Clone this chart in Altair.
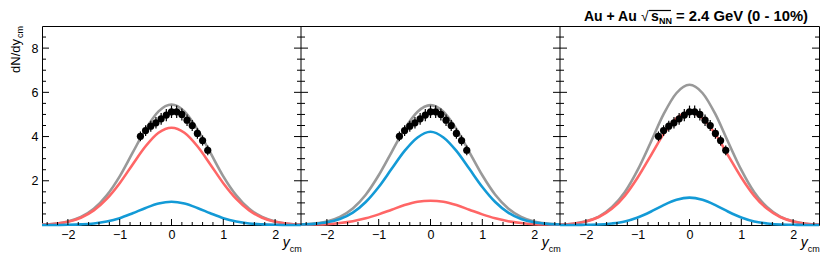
import altair as alt
import pandas as pd

# ---------------- data ----------------
curve_x = [-2.5, -2.25, -2.0, -1.75, -1.5, -1.25, -1.0, -0.75, -0.5, -0.25, 0.0,
           0.25, 0.5, 0.75, 1.0, 1.25, 1.5, 1.75, 2.0, 2.25, 2.5]

p1_gray = [0.02, 0.06, 0.16, 0.36, 0.73, 1.34, 2.20, 3.27, 4.33, 5.14, 5.45,
           5.14, 4.33, 3.27, 2.20, 1.34, 0.73, 0.36, 0.16, 0.06, 0.02]
p1_red = [0.02, 0.06, 0.15, 0.33, 0.66, 1.18, 1.89, 2.74, 3.56, 4.17, 4.40,
          4.17, 3.56, 2.74, 1.89, 1.18, 0.66, 0.33, 0.15, 0.06, 0.02]
p1_blue = [0.00, 0.00, 0.01, 0.03, 0.07, 0.16, 0.31, 0.53, 0.77, 0.97, 1.05,
           0.97, 0.77, 0.53, 0.31, 0.16, 0.07, 0.03, 0.01, 0.00, 0.00]

p2_gray = [0.03, 0.07, 0.16, 0.37, 0.75, 1.37, 2.25, 3.30, 4.34, 5.12, 5.42,
           5.12, 4.34, 3.30, 2.25, 1.37, 0.75, 0.37, 0.16, 0.07, 0.03]
p2_red = [0.01, 0.02, 0.04, 0.09, 0.17, 0.30, 0.48, 0.69, 0.90, 1.05, 1.10,
          1.05, 0.90, 0.69, 0.48, 0.30, 0.17, 0.09, 0.04, 0.02, 0.01]
p2_blue = [0.02, 0.05, 0.12, 0.27, 0.56, 1.04, 1.72, 2.54, 3.35, 3.96, 4.22,
           3.96, 3.35, 2.54, 1.72, 1.04, 0.56, 0.27, 0.12, 0.05, 0.02]

p3_gray = [0.02, 0.06, 0.17, 0.38, 0.80, 1.48, 2.49, 3.73, 5.01, 5.97, 6.34,
           5.97, 5.01, 3.73, 2.49, 1.48, 0.80, 0.38, 0.17, 0.06, 0.02]
p3_red = [0.02, 0.06, 0.16, 0.36, 0.73, 1.32, 2.15, 3.13, 4.11, 4.83, 5.10,
          4.83, 4.11, 3.13, 2.15, 1.32, 0.73, 0.36, 0.16, 0.06, 0.02]
p3_blue = [0.00, 0.00, 0.01, 0.02, 0.07, 0.16, 0.34, 0.60, 0.90, 1.14, 1.24,
           1.14, 0.90, 0.60, 0.34, 0.16, 0.07, 0.02, 0.01, 0.00, 0.00]

data_x = [-0.6, -0.5, -0.4, -0.3, -0.2, -0.1, 0.0, 0.1, 0.2, 0.3, 0.4, 0.5, 0.6, 0.7]
data_y = [4.01, 4.27, 4.47, 4.62, 4.80, 4.97, 5.12, 5.12, 5.00, 4.74, 4.50, 4.14, 3.82, 3.38]
data_err = [0.22, 0.24, 0.25, 0.26, 0.27, 0.28, 0.28, 0.28, 0.27, 0.26, 0.25, 0.24, 0.23, 0.22]

x_tick_labels = [-2, -1, 0, 1, 2]
y_tick_labels = [2, 4, 6, 8]
y_minor = [0.5, 1, 1.5, 2.5, 3, 3.5, 4.5, 5, 5.5, 6.5, 7, 7.5, 8.5]
x_minor = [-2.4, -2.2, -1.8, -1.6, -1.4, -1.2, -0.8, -0.6, -0.4, -0.2,
           0.2, 0.4, 0.6, 0.8, 1.2, 1.4, 1.6, 1.8, 2.2, 2.4]

title_parts = ["Au + Au", "\u221a", "s", "NN", "= 2.4 GeV (0 - 10%)"]
ytitle_parts = ["dN/dy", "cm"]
xtitle_parts = ["y", "cm"]

series_colors = {"gray": "#999999", "red": "#ff6666", "blue": "#139ad6"}

# ---------------- tables ----------------
panels = [
    {"gray": p1_gray, "red": p1_red, "blue": p1_blue},
    {"gray": p2_gray, "red": p2_red, "blue": p2_blue},
    {"gray": p3_gray, "red": p3_red, "blue": p3_blue},
]
rows = []
for p, d in enumerate(panels):
    for s, vals in d.items():
        for xv, yv in zip(curve_x, vals):
            rows.append({"panel": p, "series": s, "x": xv, "y": yv})
curves = pd.DataFrame(rows)

pts = pd.DataFrame([
    {"panel": p, "x": xv, "y": yv, "err": e}
    for p in range(3) for xv, yv, e in zip(data_x, data_y, data_err)
])

W, H = 777, 199
FONT = "Liberation Sans"

xaxis = alt.Axis(values=[p * 5 + 2.5 + v for p in range(3) for v in x_tick_labels],
                 labelExpr="format(datum.value % 5 - 2.5, '.0f')",
                 ticks=False, tickSize=0, domain=False, grid=False, title=None,
                 labelFont=FONT, labelFontSize=12.5, labelColor="black",
                 labelPadding=3, labelFlush=False, labelOverlap=False)
yaxis = alt.Axis(values=y_tick_labels, format="d", ticks=False, tickSize=0,
                 domain=False, grid=False, title=None, labelFont=FONT,
                 labelFontSize=12.5, labelColor="black", labelPadding=4)
X = alt.X("gx:Q", scale=alt.Scale(domain=[0, 15], nice=False, zero=False), axis=xaxis)
Y = alt.Y("y:Q", scale=alt.Scale(domain=[0, 9], nice=False, zero=False), axis=yaxis)

gx_expr = "datum.panel * 5 + datum.x + 2.5"

layers = []
for s in ["gray", "red", "blue"]:
    layers.append(
        alt.Chart(curves[curves.series == s])
        .transform_calculate(gx=gx_expr)
        .mark_line(color=series_colors[s], strokeWidth=2.6, interpolate="monotone")
        .encode(x=X, y=Y, detail="panel:N")
    )

errbars = (alt.Chart(pts)
           .transform_calculate(gx=gx_expr, lo="datum.y - datum.err", hi="datum.y + datum.err")
           .mark_rule(color="black", strokeWidth=1.2)
           .encode(x=X, y=alt.Y("lo:Q", scale=alt.Scale(domain=[0, 9], nice=False, zero=False), axis=yaxis),
                   y2="hi:Q"))
points = (alt.Chart(pts)
          .transform_calculate(gx=gx_expr)
          .mark_circle(color="black", size=52, opacity=1)
          .encode(x=X, y=Y))
layers += [errbars, points]

# panel dividers
div = pd.DataFrame({"panel": [1, 2], "x": [-2.5, -2.5]})
layers.append(alt.Chart(div).transform_calculate(gx=gx_expr)
              .mark_rule(color="black", strokeWidth=1)
              .encode(x=X, y=alt.value(0), y2=alt.value(H)))

# y ticks (inward on both sides of each panel)
for v_list, ln in [(y_tick_labels, 7), (y_minor, 4)]:
    left = pd.DataFrame([{"panel": p, "x": -2.5, "y": v} for p in range(3) for v in v_list])
    right = pd.DataFrame([{"panel": p, "x": 2.5, "y": v} for p in range(3) for v in v_list])
    layers.append(alt.Chart(left).transform_calculate(gx=gx_expr)
                  .mark_rule(color="black", strokeWidth=1, x2Offset=ln)
                  .encode(x=X, x2="gx:Q", y=Y))
    layers.append(alt.Chart(right).transform_calculate(gx=gx_expr)
                  .mark_rule(color="black", strokeWidth=1, x2Offset=-ln)
                  .encode(x=X, x2="gx:Q", y=Y))

# x ticks (inward at bottom)
for v_list, ln in [(x_tick_labels, 6), (x_minor, 3)]:
    xt = pd.DataFrame([{"panel": p, "x": v} for p in range(3) for v in v_list])
    layers.append(alt.Chart(xt).transform_calculate(gx=gx_expr)
                  .mark_rule(color="black", strokeWidth=1)
                  .encode(x=X, y=alt.value(H), y2=alt.value(H - ln)))

# x titles
xt_df = pd.DataFrame({"panel": [0, 1, 2], "x": [2.15, 2.15, 2.15], "t": [xtitle_parts[0]] * 3})
xs_df = pd.DataFrame({"panel": [0, 1, 2], "x": [2.15, 2.15, 2.15], "t": [xtitle_parts[1]] * 3})
layers.append(alt.Chart(xt_df).transform_calculate(gx=gx_expr)
              .mark_text(font=FONT, fontSize=14, fontStyle="italic", align="left",
                         baseline="alphabetic", color="black")
              .encode(x=X, y=alt.value(H + 22), text="t:N"))
layers.append(alt.Chart(xs_df).transform_calculate(gx=gx_expr)
              .mark_text(font=FONT, fontSize=9, align="left", baseline="alphabetic",
                         color="black", dx=7)
              .encode(x=X, y=alt.value(H + 27), text="t:N"))

# y title (rotated)
layers.append(alt.Chart(pd.DataFrame({"t": [ytitle_parts[0]]}))
              .mark_text(font=FONT, fontSize=13, angle=270, align="right",
                         baseline="alphabetic", color="black")
              .encode(x=alt.value(-22), y=alt.value(13), text="t:N"))
layers.append(alt.Chart(pd.DataFrame({"t": [ytitle_parts[1]]}))
              .mark_text(font=FONT, fontSize=9, angle=270, align="left",
                         baseline="alphabetic", color="black")
              .encode(x=alt.value(-19), y=alt.value(12), text="t:N"))

# title pieces
def tpiece(txt, x, y, size, weight="bold"):
    return (alt.Chart(pd.DataFrame({"t": [txt]}))
            .mark_text(font=FONT, fontSize=size, fontWeight=weight, align="left",
                       baseline="alphabetic", color="black")
            .encode(x=alt.value(x), y=alt.value(y), text="t:N"))

layers.append(tpiece(title_parts[0], 542, -5, 14))
layers.append(tpiece(title_parts[1], 599, -5, 14, "normal"))
layers.append(tpiece(title_parts[2], 609, -5, 14))
layers.append(tpiece(title_parts[3], 617, -2, 9))
layers.append(tpiece(title_parts[4], 634, -5, 14.8))
layers.append(alt.Chart(pd.DataFrame({"t": [""]}))
              .mark_rule(color="black", strokeWidth=1.2)
              .encode(x=alt.value(607), x2=alt.value(629), y=alt.value(-15.5)))

chart = (alt.layer(*layers)
         .properties(width=W, height=H,
                     autosize=alt.AutoSizeParams(type="none"),
                     padding={"left": 34, "top": 18, "right": 3, "bottom": 30})
         .configure_view(stroke="black", strokeWidth=1))

chart.save("out.html", embed_options={"renderer": "svg", "actions": False})
